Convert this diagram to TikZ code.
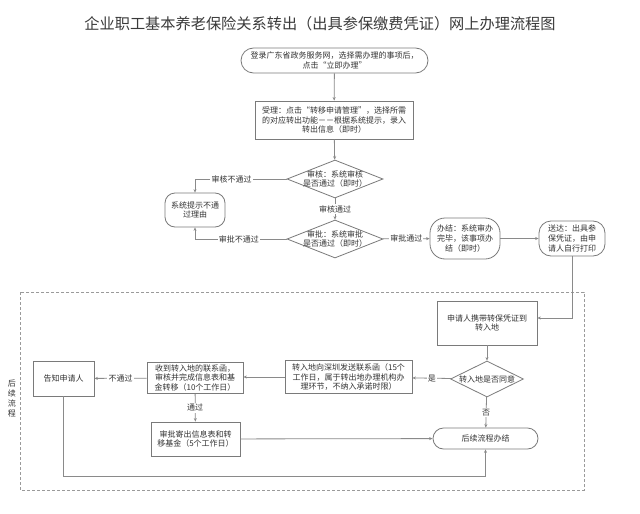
\documentclass[tikz,border=0pt]{standalone}
\usepackage{fontspec}
\setmainfont{Noto Sans CJK SC}
\usetikzlibrary{arrows.meta,shapes.geometric}
\definecolor{ln}{HTML}{8A8A8A}
\definecolor{bd}{HTML}{7A7A7A}
\definecolor{txt}{HTML}{333333}
\definecolor{ttl}{HTML}{3A3A3A}
\definecolor{dsh}{HTML}{9A9A9A}
\begin{document}
\begin{tikzpicture}[x=1pt,y=-1pt,
  every node/.style={font=\fontsize{8}{9.6}\selectfont, text=txt},
  box/.style={draw=bd, line width=0.8pt, inner sep=0pt, align=center},
  rbox/.style={box, rounded corners=#1},
  dia/.style={draw=bd, line width=0.8pt, shape=diamond, inner sep=0pt, minimum width=96pt, minimum height=38pt},
  dtext/.style={align=center, inner sep=0pt},
  arr/.style={draw=ln, line width=0.8pt, -{Stealth[length=3.5pt,width=3pt]}},
  lbl/.style={fill=white, inner sep=1.2pt, font=\fontsize{8}{9.6}\selectfont}
]
\useasboundingbox[fill=white] (0,0) rectangle (640,514);

\node[font=\fontsize{15.2}{18}\selectfont, text=ttl] (title) at (320,24) {企业职工基本养老保险关系转出（出具参保缴费凭证）网上办理流程图};

\node[rbox=12.5pt, minimum width=187pt, minimum height=25pt] (start) at (334.5,60.5) {登录广东省政务服务网，选择需办理的事项后，\\点击“立即办理”};
\node[box, minimum width=158pt, minimum height=38pt] (accept) at (334,120) {受理：点击“转移申请管理”，选择所需\\的对应转出功能－－根据系统提示，录入\\转出信息（即时）};
\node[dia] (d1) at (335,179) {};
\node[dtext] (d1t) at (d1) {审核：系统审核\\是否通过（即时）};
\node[dia] (d2) at (335,239) {};
\node[dtext] (d2t) at (d2) {审批：系统审批\\是否通过（即时）};
\node[rbox=10pt, minimum width=60pt, minimum height=34pt] (reason) at (195,210) {系统提示不通\\过理由};
\node[rbox=15pt, minimum width=70pt, minimum height=41pt] (done) at (465,238.5) {办结：系统审办\\完毕，该事项办\\结（即时）};
\node[rbox=12pt, minimum width=66pt, minimum height=35pt] (deliver) at (572,238.5) {送达：出具参\\保凭证，由申\\请人自行打印};

\draw[dashed, dash pattern=on 3pt off 2pt, draw=dsh, line width=0.8pt] (20,292) rectangle (584,490);
\node[align=center, font=\fontsize{8}{10}\selectfont] (sub) at (12,398) {后\\续\\流\\程};

\node[box, minimum width=100pt, minimum height=44pt] (carry) at (487,323) {申请人携带转保凭证到\\转入地};
\node[dia, minimum width=73pt, minimum height=36pt] (d3) at (487,379) {};
\node[dtext] (d3t) at (d3) {转入地是否同意};
\node[box, minimum width=127pt, minimum height=33pt] (send) at (348.5,377) {转入地向深圳发送联系函（15个\\工作日，属于转出地办理机构办\\理环节，不纳入承诺时限）};
\node[box, minimum width=96pt, minimum height=31pt] (recv) at (195,378) {收到转入地的联系函，\\审核并完成信息表和基\\金转移（10个工作日）};
\node[box, minimum width=61pt, minimum height=35pt] (tell) at (63.5,378.5) {告知申请人};
\node[box, minimum width=89pt, minimum height=34pt] (approve) at (195.5,439) {审批寄出信息表和转\\移基金（5个工作日）};
\node[rbox=10.5pt, minimum width=105pt, minimum height=21pt] (end) at (485.5,438.5) {后续流程办结};

\draw[arr] (start) -- (accept);
\draw[arr] (accept) -- (d1);
\draw[arr] (d1.west) -| node[lbl, pos=0.3] {审核不通过} (reason.north);
\draw[arr] (d2.west) -| node[lbl, pos=0.26] {审批不通过} (reason.south);
\draw[arr] (d1) -- node[lbl] {审核通过} (d2);
\draw[arr] (d2) -- node[lbl] {审批通过} (done);
\draw[arr] (done) -- (deliver);
\draw[arr] (deliver.south) |- ([yshift=5pt]carry.east);
\draw[arr] (carry) -- (d3);
\draw[arr] (d3) -- node[lbl] {是} (send);
\draw[arr] (send.west) -- (send.west -| recv.east);
\draw[arr] (recv) -- node[lbl] {不通过} (tell);
\draw[arr] (recv) -- node[lbl] {通过} (approve);
\draw[arr] (approve) -- (end);
\draw[arr] (d3) -- node[lbl] {否} (end);
\draw[arr] (tell.south) -- ++(0,80) -| (end.south);
\end{tikzpicture}
\end{document}
